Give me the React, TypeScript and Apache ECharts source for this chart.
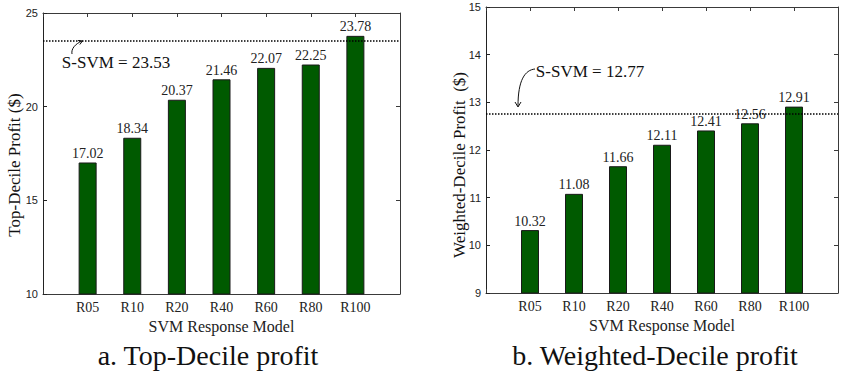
import React, { useEffect, useRef } from "react";
import * as echarts from "echarts";

const categories = ["R05", "R10", "R20", "R40", "R60", "R80", "R100"];
const topDecile = [17.02, 18.34, 20.37, 21.46, 22.07, 22.25, 23.78];
const weightedDecile = [10.32, 11.08, 11.66, 12.11, 12.41, 12.56, 12.91];
const sSvmTop = 23.53;
const sSvmWeighted = 12.77;
const leftY = { min: 10, max: 25, interval: 5 };
const rightY = { min: 9, max: 15, interval: 1 };

const SERIF = "Liberation Serif";
const SANS = "Liberation Sans";
const GREEN = "#005a00";
const AXIS = "#3a3a3a";

const padded = ["", ...categories, ""];

function catAxes(gridIndex: number) {
  return [
    {
      type: "category",
      gridIndex,
      data: padded,
      boundaryGap: false,
      position: "bottom",
      axisLine: { show: true, lineStyle: { color: AXIS, width: 1 } },
      axisTick: { show: true, inside: true, length: 4, interval: 0, lineStyle: { color: AXIS } },
      axisLabel: { interval: 0, margin: 6, fontFamily: SERIF, fontSize: 14, color: "#222" },
      name: "SVM Response Model",
      nameLocation: "middle",
      nameGap: 24,
      nameTextStyle: { fontFamily: SERIF, fontSize: 16, color: "#222" },
      splitLine: { show: false },
    },
    {
      type: "category",
      gridIndex,
      data: padded,
      boundaryGap: false,
      position: "top",
      axisLine: { show: true, lineStyle: { color: AXIS, width: 1 } },
      axisTick: { show: true, inside: true, length: 4, interval: 0, lineStyle: { color: AXIS } },
      axisLabel: { show: false },
      splitLine: { show: false },
    },
  ];
}

function valAxes(gridIndex: number, r: { min: number; max: number; interval: number }) {
  return [
    {
      type: "value",
      gridIndex,
      position: "left",
      min: r.min,
      max: r.max,
      interval: r.interval,
      axisLine: { show: true, lineStyle: { color: "#222", width: 1 } },
      axisTick: { show: true, inside: true, length: 4, lineStyle: { color: "#222" } },
      axisLabel: { margin: 5, fontFamily: SANS, fontSize: 11, color: "#222" },
      splitLine: { show: false },
    },
    {
      type: "value",
      gridIndex,
      position: "right",
      min: r.min,
      max: r.max,
      interval: r.interval,
      axisLine: { show: true, lineStyle: { color: AXIS, width: 1 } },
      axisTick: { show: true, inside: true, length: 4, lineStyle: { color: AXIS } },
      axisLabel: { show: false },
      splitLine: { show: false },
    },
  ];
}

function barSeries(idx: number, values: number[], ref: number) {
  return {
    type: "bar",
    xAxisIndex: idx * 2,
    yAxisIndex: idx * 2,
    data: [null, ...values, null],
    barWidth: 18,
    itemStyle: { color: GREEN, borderColor: "#1a1a1a", borderWidth: 1 },
    label: {
      show: true,
      position: "top",
      distance: 2,
      fontFamily: SERIF,
      fontSize: 14,
      color: "#222",
      formatter: (p: any) => (p.value == null ? "" : Number(p.value).toFixed(2)),
    },
    markLine: {
      silent: true,
      symbol: "none",
      label: { show: false },
      lineStyle: { type: "dotted", color: "#000", width: 1.5 },
      emphasis: { disabled: true },
      data: [{ yAxis: ref }],
    },
  };
}

function txt(x: number, y: number, text: string, size: number, rotation = 0) {
  return {
    type: "text",
    x,
    y,
    rotation,
    style: {
      text,
      fontFamily: SERIF,
      fontSize: size,
      fill: "#111",
      align: "center",
      verticalAlign: "middle",
    },
  };
}

export default function App() {
  const ref = useRef<HTMLDivElement>(null);
  useEffect(() => {
    document.body.style.margin = "0";
    const chart = echarts.init(ref.current!, undefined, { renderer: "svg" });
    chart.setOption({
      animation: false,
      backgroundColor: "#fff",
      grid: [
        { left: 43, top: 13, width: 357, height: 281 },
        { left: 486, top: 7, width: 362, height: 286 },
      ],
      xAxis: [...catAxes(0), ...catAxes(1)],
      yAxis: [...valAxes(0, leftY), ...valAxes(1, rightY)],
      series: [barSeries(0, topDecile, sSvmTop), barSeries(1, weightedDecile, sSvmWeighted)],
      graphic: [
        txt(14, 165, "Top-Decile Profit ($)", 17, Math.PI / 2),
        txt(459, 165, "Weighted-Decile Profit  ($)", 17, Math.PI / 2),
        txt(116, 62, `S-SVM = ${sSvmTop.toFixed(2)}`, 17),
        txt(590, 71, `S-SVM = ${sSvmWeighted.toFixed(2)}`, 17),
        {
          type: "bezierCurve",
          shape: { x1: 72, y1: 54, cpx1: 71, cpy1: 49, cpx2: 75, cpy2: 44, x2: 82, y2: 41 },
          style: { stroke: "#111", lineWidth: 1, fill: "none" },
        },
        {
          type: "polyline",
          shape: { points: [[78, 40.5], [82.5, 41], [79.8, 44.5]] },
          style: { stroke: "#111", lineWidth: 1, fill: "none" },
        },
        {
          type: "bezierCurve",
          shape: { x1: 535, y1: 69, cpx1: 525, cpy1: 70, cpx2: 518, cpy2: 80, x2: 518, y2: 106 },
          style: { stroke: "#111", lineWidth: 1, fill: "none" },
        },
        {
          type: "polyline",
          shape: { points: [[515, 102], [518, 107], [521, 102]] },
          style: { stroke: "#111", lineWidth: 1, fill: "none" },
        },
        txt(208, 355, "a. Top-Decile profit", 28),
        txt(655, 355, "b. Weighted-Decile profit", 28),
      ],
    });
    return () => chart.dispose();
  }, []);
  return <div ref={ref} style={{ width: 841, height: 371 }} />;
}
